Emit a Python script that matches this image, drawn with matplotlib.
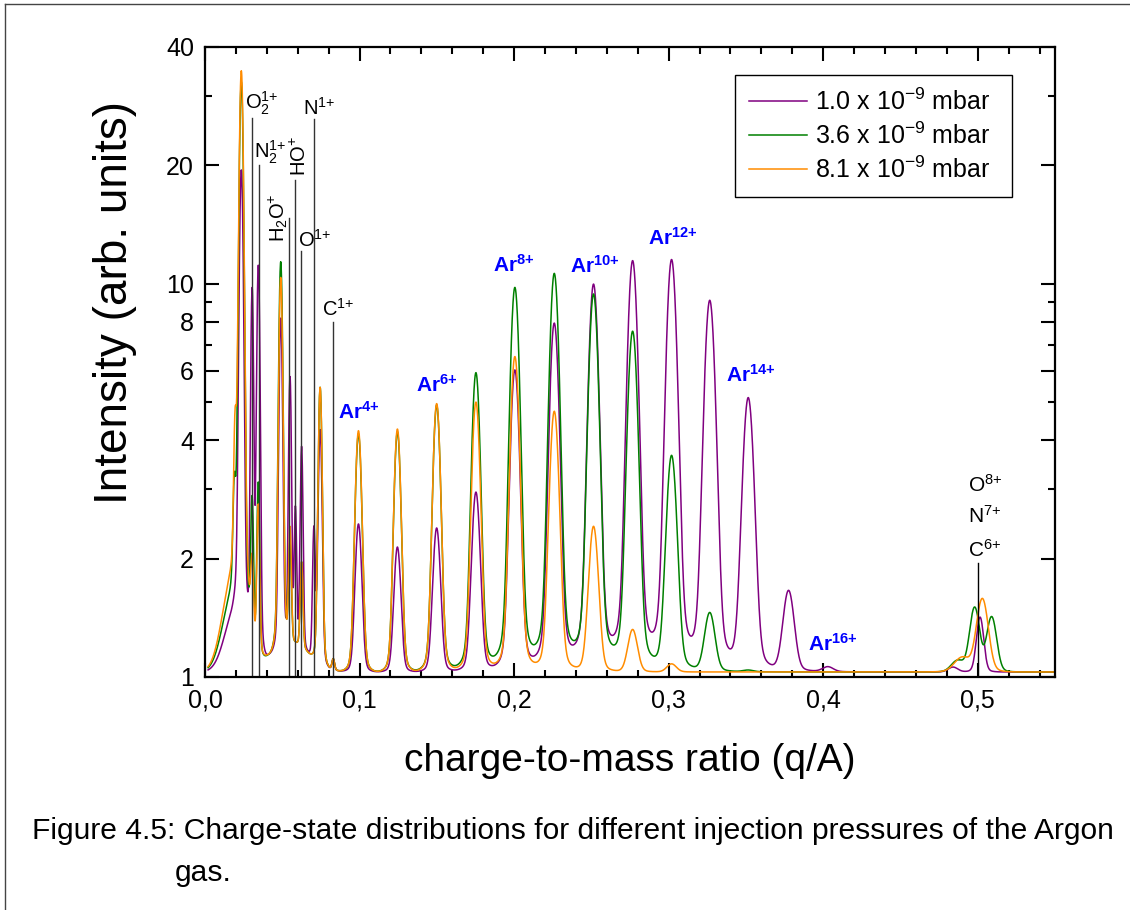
import numpy as np
import matplotlib
matplotlib.use("Agg")
import matplotlib.pyplot as plt
from matplotlib import font_manager
from matplotlib.lines import Line2D
from matplotlib.ticker import FixedLocator, FuncFormatter, MultipleLocator, NullFormatter

installed = {f.name for f in font_manager.fontManager.ttflist}
narrow = next((n for n in ["Liberation Sans Narrow", "DejaVu Sans Condensed"] if n in installed),
              "Liberation Sans")

plt.rcParams["font.family"] = ["Liberation Sans", "DejaVu Sans"]
plt.rcParams["mathtext.fontset"] = "custom"
plt.rcParams["mathtext.rm"] = "Liberation Sans"
plt.rcParams["mathtext.it"] = "Liberation Sans:italic"
plt.rcParams["mathtext.bf"] = "Liberation Sans:bold"

# --- Daten ---
BASE = 1.03

# Ar-Ladungszustaende 4+ ... 16+
ar_charge = [4, 5, 6, 7, 8, 9, 10, 11, 12, 13, 14, 15, 16]
ar_pos = [0.0993, 0.1245, 0.1499, 0.1753, 0.2005, 0.2260, 0.2514, 0.2767, 0.3019, 0.3266, 0.3515, 0.3776, 0.4030]
ar_sigma = [0.0019, 0.0020, 0.0022, 0.0024, 0.0026, 0.0027, 0.0028, 0.0029, 0.0030, 0.0031, 0.0032, 0.0033, 0.0034]

ar_h_10 = [2.45, 2.14, 2.39, 2.94, 6.0, 7.86, 9.85, 11.3, 11.4, 9.0, 5.1, 1.65, 1.06]
ar_h_36 = [4.15, 4.2, 4.9, 5.9, 9.7, 10.5, 9.3, 7.5, 3.63, 1.45, 1.04, 1.0, 1.0]
ar_h_81 = [4.23, 4.27, 4.95, 4.98, 6.5, 4.72, 2.41, 1.32, 1.08, 1.0, 1.0, 1.0, 1.0]

# Restgas-Peaks (kleines q/A) und O/N/C bei 0.5
low_pos_10 = [0.0235, 0.0305, 0.0345, 0.049, 0.055, 0.0585, 0.0625, 0.0705, 0.0745, 0.083, 0.484, 0.5015]
low_h_10 = [19.0, 9.5, 11.0, 8.0, 5.6, 2.5, 3.7, 2.3, 4.2, 1.1, 1.06, 1.42]
low_w_10 = [0.0011, 0.0008, 0.0009, 0.0010, 0.0008, 0.0007, 0.0008, 0.0008, 0.0011, 0.0008, 0.003, 0.0022]

low_pos_36 = [0.019, 0.0235, 0.0305, 0.0345, 0.049, 0.055, 0.0625, 0.0745, 0.083, 0.487, 0.498, 0.509]
low_h_36 = [2.3, 32.0, 2.6, 3.0, 11.2, 2.0, 1.8, 5.4, 1.1, 1.1, 1.5, 1.42]
low_w_36 = [0.0008, 0.0012, 0.0008, 0.0008, 0.0011, 0.0008, 0.0008, 0.0011, 0.0008, 0.004, 0.003, 0.003]

low_pos_81 = [0.0195, 0.0235, 0.0305, 0.0345, 0.049, 0.055, 0.0625, 0.0745, 0.083, 0.490, 0.503]
low_h_81 = [3.4, 34.0, 1.7, 2.6, 10.2, 2.2, 1.8, 5.4, 1.1, 1.12, 1.58]
low_w_81 = [0.0008, 0.0012, 0.0008, 0.0008, 0.0011, 0.0008, 0.0008, 0.0011, 0.0008, 0.005, 0.0035]

# breiter Untergrund (Position, Amplitude, Breite)
bg_10 = [(0.021, 0.5, 0.007), (0.055, 0.2, 0.012), (0.275, 0.15, 0.045)]
bg_36 = [(0.020, 0.7, 0.007), (0.055, 0.2, 0.012), (0.235, 0.13, 0.040)]
bg_81 = [(0.020, 0.9, 0.007), (0.055, 0.2, 0.012), (0.200, 0.03, 0.030)]

labels = ["1.0 x 10$^{-9}$ mbar  ", "3.6 x 10$^{-9}$ mbar  ", "8.1 x 10$^{-9}$ mbar  "]
colors = ["#800080", "#008000", "#ff8c00"]

# Restgas-Linien
ion_text = [r"$\mathrm{O_2^{1{+}}}$", r"$\mathrm{N_2^{1{+}}}$", r"$\mathrm{H_2O^{{+}}}$", r"$\mathrm{HO^{{+}}}$",
            r"$\mathrm{O^{1{+}}}$", r"$\mathrm{N^{1{+}}}$", r"$\mathrm{C^{1{+}}}$"]
ion_x = [0.0304, 0.0347, 0.0546, 0.0583, 0.0619, 0.0708, 0.0827]
ion_top = [26.4, 20.1, 14.7, 18.4, 12.1, 26.2, 8.0]
# Textpositionen (x, y, Drehung, ha)
ion_lbl = [(0.0260, 26.5, 0, "left"), (0.0314, 19.9, 0, "left"), (0.0473, 12.8, 90, "center"),
           (0.0617, 18.8, 90, "center"), (0.0600, 12.1, 0, "left"), (0.0633, 26.2, 0, "left"),
           (0.0756, 8.1, 0, "left")]

# Ar-Beschriftungen
ar_lbl_q = [4, 6, 8, 10, 12, 14, 16]
ar_lbl_xy = [(0.0997, 4.43), (0.150, 5.2), (0.1995, 10.5), (0.252, 10.4), (0.3026, 12.3), (0.353, 5.5), (0.406, 1.14)]


x = np.linspace(0.002, 0.55, 4000)


def spectrum(pos, h, w, bg):
    y = np.full_like(x, BASE)
    for c, hh, s in zip(pos, h, w):
        a = max(hh - BASE, 0.0)
        y += 0.96 * a * np.exp(-0.5 * ((x - c) / s) ** 2)
        y += 0.04 * a * np.exp(-0.5 * ((x - c) / (2.2 * s)) ** 2)
    for c, a, s in bg:
        y += a * np.exp(-0.5 * ((x - c) / s) ** 2)
    return y


series = [
    spectrum(low_pos_10 + ar_pos, low_h_10 + ar_h_10, low_w_10 + ar_sigma, bg_10),
    spectrum(low_pos_36 + ar_pos, low_h_36 + ar_h_36, low_w_36 + ar_sigma, bg_36),
    spectrum(low_pos_81 + ar_pos, low_h_81 + ar_h_81, low_w_81 + ar_sigma, bg_81),
]

fig = plt.figure(figsize=(11.3, 9.1), dpi=100)
ax = fig.add_axes([205 / 1130, 1 - 677 / 910, 850 / 1130, 630 / 910])

for y, c, lab in zip(series, colors, labels):
    ax.plot(x, y, color=c, lw=1.1, label=lab)

ax.set_yscale("log")
ax.set_xlim(0, 0.55)
ax.set_ylim(1, 40)

# Restgas-Linien
for t, xi, top, (lx, ly, rot, ha) in zip(ion_text, ion_x, ion_top, ion_lbl):
    ax.plot([xi, xi], [1, top], color="#333333", lw=1.0)
    ax.text(lx, ly, t, rotation=rot, ha=ha, va="bottom", fontsize=14.5)

ax.plot([0.5, 0.5], [1, 1.95], color="black", lw=1.0)
for t, ly in zip([r"$\mathrm{C^{6{+}}}$", r"$\mathrm{N^{7{+}}}$", r"$\mathrm{O^{8{+}}}$"], [2.02, 2.47, 2.96]):
    ax.text(0.4935, ly, t, ha="left", va="baseline", fontsize=15)

for q, (lx, ly) in zip(ar_lbl_q, ar_lbl_xy):
    ax.text(lx, ly, r"$\mathbf{Ar^{%d{+}}}$" % q, ha="center", va="bottom", fontsize=15, color="#0000ff")

# Achsen
ax.yaxis.set_major_locator(FixedLocator([1, 2, 4, 6, 8, 10, 20, 40]))
ax.yaxis.set_minor_locator(FixedLocator([3, 5, 7, 9, 30]))
ax.yaxis.set_major_formatter(FuncFormatter(lambda v, p: f"{v:g}"))
ax.yaxis.set_minor_formatter(NullFormatter())
ax.xaxis.set_major_locator(MultipleLocator(0.1))
ax.xaxis.set_minor_locator(MultipleLocator(0.02))
ax.xaxis.set_major_formatter(FuncFormatter(lambda v, p: f"{v:.1f}".replace(".", ",")))
ax.tick_params(which="both", direction="in", top=True, right=True, width=1.5, labelsize=18)
ax.tick_params(which="major", length=10, pad=8)
ax.tick_params(which="minor", length=5)
for sp in ax.spines.values():
    sp.set_linewidth(1.6)

ax.set_xlabel("charge-to-mass ratio (q/A)", fontsize=28, labelpad=22)
ax.set_ylabel("Intensity (arb. units)", fontsize=33)
ax.yaxis.set_label_coords(-0.08, 0.595)

leg = ax.legend(loc="upper left", bbox_to_anchor=(0.6235, 0.9556), borderaxespad=0, fontsize=18,
                fancybox=False, framealpha=1, edgecolor="black", handlelength=2.35, handletextpad=0.32,
                labelspacing=0.3, borderpad=0.55)
leg.get_frame().set_linewidth(1.0)

# Seitenrahmen
fig.add_artist(Line2D([5 / 1130, 1], [1 - 4 / 910, 1 - 4 / 910], color="#444444", lw=1.0))
fig.add_artist(Line2D([5 / 1130, 5 / 1130], [0, 1 - 4 / 910], color="#444444", lw=1.0))

# Bildunterschrift
cap1 = fig.text(32 / 1130, 1 - 831 / 910,
                "Figure 4.5: Charge-state distributions for different injection pressures of the Argon",
                family=narrow, fontsize=22, va="center", ha="left")
cap2 = fig.text(175 / 1130, 1 - 873 / 910, "gas.", family=narrow, fontsize=22, va="center", ha="left")
r = fig.canvas.get_renderer()
wpx = cap1.get_window_extent(r).width
fs = 22 * 1080 / wpx
cap1.set_fontsize(fs)
cap2.set_fontsize(fs)

fig.savefig("out.png", dpi=100)
